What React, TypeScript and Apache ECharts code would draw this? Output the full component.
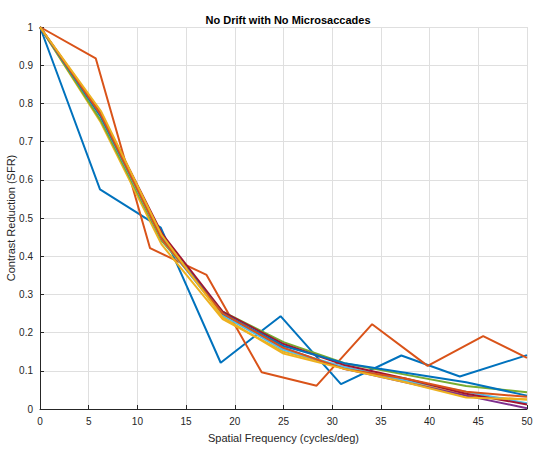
import React, { useEffect, useRef } from "react";
import * as echarts from "echarts";

const TITLE = "No Drift with No Microsaccades";
const X_LABEL = "Spatial Frequency (cycles/deg)";
const Y_LABEL = "Contrast Reduction (SFR)";

const COLORS = ["#0072BD", "#D95319", "#EDB120", "#7E2F8E", "#77AC30", "#4DBEEE", "#A2142F"];

// Outlier traces (own frequency samples)
const blueX = [0, 6.16, 12.4, 18.55, 24.7, 30.9, 37.1, 43.1, 50];
const blueY = [1, 0.575, 0.475, 0.121, 0.243, 0.065, 0.14, 0.085, 0.141];
const redX = [0, 5.72, 11.3, 17.1, 22.76, 28.4, 34.1, 39.8, 45.5, 50];
const redY = [1, 0.918, 0.421, 0.351, 0.096, 0.061, 0.222, 0.113, 0.191, 0.134];

// Bundle traces
const bundleX = [0, 6.25, 12.5, 18.75, 25, 31.25, 37.5, 43.75, 50];
const yellowY = [1, 0.75, 0.43, 0.235, 0.15, 0.108, 0.075, 0.035, 0.025];
const purpleY = [1, 0.77, 0.45, 0.245, 0.16, 0.105, 0.07, 0.035, 0.002];
const greenY = [1, 0.755, 0.44, 0.255, 0.175, 0.12, 0.09, 0.06, 0.044];
const cyanY = [1, 0.765, 0.445, 0.245, 0.155, 0.11, 0.075, 0.045, 0.015];
const darkRedY = [1, 0.775, 0.46, 0.255, 0.17, 0.115, 0.08, 0.04, 0.012];
const blue2Y = [1, 0.765, 0.45, 0.25, 0.165, 0.12, 0.095, 0.07, 0.035];
const orange2Y = [1, 0.77, 0.445, 0.25, 0.16, 0.105, 0.08, 0.045, 0.032];
const yellow2Y = [1, 0.78, 0.455, 0.24, 0.145, 0.105, 0.07, 0.03, 0.025];

const FONT = "Liberation Sans, Arial, Helvetica, sans-serif";
const AXIS_COLOR = "#262626";

function pairs(xs: number[], ys: number[]) {
  return xs.map((x, i) => [x, ys[i]]);
}

export default function App() {
  const ref = useRef<HTMLDivElement>(null);
  useEffect(() => {
    if (!ref.current) return;
    const chart = echarts.init(ref.current, undefined, { renderer: "svg" });
    const traces: [number[], number[], string][] = [
      [blueX, blueY, COLORS[0]],
      [redX, redY, COLORS[1]],
      [bundleX, yellowY, COLORS[2]],
      [bundleX, purpleY, COLORS[3]],
      [bundleX, greenY, COLORS[4]],
      [bundleX, cyanY, COLORS[5]],
      [bundleX, darkRedY, COLORS[6]],
      [bundleX, blue2Y, COLORS[0]],
      [bundleX, orange2Y, COLORS[1]],
      [bundleX, yellow2Y, COLORS[2]],
    ];
    chart.setOption({
      animation: false,
      backgroundColor: "#ffffff",
      title: {
        text: TITLE,
        left: 283,
        textAlign: "center",
        top: 9,
        textStyle: { fontFamily: FONT, fontSize: 11, fontWeight: "bold", color: "#000" },
      },
      grid: {
        left: 40,
        right: 11,
        top: 27,
        bottom: 45,
        containLabel: false,
        outerBoundsMode: "none",
      },
      xAxis: {
        type: "value",
        min: 0,
        max: 50,
        interval: 5,
        name: X_LABEL,
        nameLocation: "middle",
        nameGap: 23,
        nameMoveOverlap: false,
        nameTextStyle: { fontFamily: FONT, fontSize: 11, color: AXIS_COLOR },
        axisLine: { show: true, onZero: false, lineStyle: { color: AXIS_COLOR, width: 1 } },
        axisTick: { show: true, inside: true, length: 4, lineStyle: { color: AXIS_COLOR } },
        axisLabel: { fontFamily: FONT, fontSize: 10, color: AXIS_COLOR, margin: 7 },
        splitLine: { show: true, lineStyle: { color: "#dfdfdf", width: 1 } },
      },
      yAxis: {
        type: "value",
        min: 0,
        max: 1,
        interval: 0.1,
        name: Y_LABEL,
        nameLocation: "middle",
        nameGap: 24,
        nameRotate: 90,
        nameMoveOverlap: false,
        nameTextStyle: { fontFamily: FONT, fontSize: 11, color: AXIS_COLOR },
        axisLine: { show: true, onZero: false, lineStyle: { color: AXIS_COLOR, width: 1 } },
        axisTick: { show: true, inside: true, length: 4, lineStyle: { color: AXIS_COLOR } },
        axisLabel: { fontFamily: FONT, fontSize: 10, color: AXIS_COLOR, margin: 7 },
        splitLine: { show: true, lineStyle: { color: "#dfdfdf", width: 1 } },
      },
      series: traces.map(([xs, ys, c]) => ({
        type: "line",
        data: pairs(xs, ys),
        symbol: "none",
        clip: true,
        lineStyle: { color: c, width: 2 },
        itemStyle: { color: c },
      })),
    });
    return () => chart.dispose();
  }, []);
  return (
    <div
      ref={ref}
      style={{ position: "fixed", left: 0, top: 0, width: 538, height: 454, background: "#fff" }}
    />
  );
}
